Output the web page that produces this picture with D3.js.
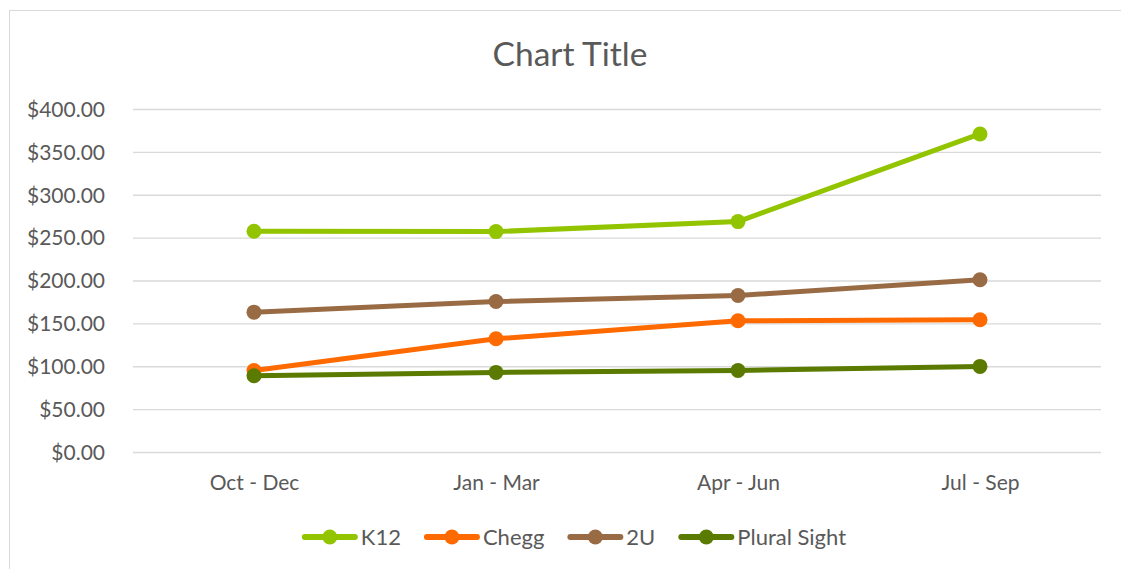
<!DOCTYPE html>
<html>
<head>
<meta charset="utf-8">
<script src="https://cdn.jsdelivr.net/npm/d3@7"></script>
<style>
  body { margin: 0; background: #fff; }
  text { font-family: Lato, "Open Sans", sans-serif; fill: #595959; }
</style>
</head>
<body>
<svg id="chart" width="1121" height="569"></svg>
<script>
const categories = ["Oct - Dec", "Jan - Mar", "Apr - Jun", "Jul - Sep"]
const seriesNames = ["K12", "Chegg", "2U", "Plural Sight"]
const k12 = [257.5, 257, 268.7, 370.9]
const chegg = [95.1, 132, 153, 154.2]
const twoU = [163.1, 175.5, 182.5, 200.8]
const pluralSight = [88.9, 92.8, 95.1, 99.8]
const yTicks = [0, 50, 100, 150, 200, 250, 300, 350, 400]
const colors = ["#93C400", "#FF6A00", "#996B45", "#5A7A00"]

const series = [k12, chegg, twoU, pluralSight].map((values, i) => ({
  name: seriesNames[i], values: values, color: colors[i]
}))

const svg = d3.select("#chart")
const margin = { left: 133, right: 20, top: 109, bottom: 117 }
const width = 1121 - margin.left - margin.right
const height = 569 - margin.top - margin.bottom

// chart frame
svg.append("rect")
  .attr("x", 9.5).attr("y", 10.5)
  .attr("width", 1130).attr("height", 580)
  .attr("fill", "none").attr("stroke", "#D9D9D9")

svg.append("text")
  .attr("x", 570).attr("y", 66)
  .attr("text-anchor", "middle")
  .style("font-size", "33.5px")
  .text("Chart Title")

const g = svg.append("g").attr("transform", `translate(${margin.left},${margin.top})`)

const x = d3.scalePoint().domain(categories).range([0, width]).padding(0.5)
const y = d3.scaleLinear().domain([0, 400]).range([height, 0])

// gridlines + y labels
const yAxis = g.append("g")
  .call(d3.axisLeft(y).tickValues(yTicks).tickSize(-width).tickPadding(28)
    .tickFormat(d => "$" + d3.format(".2f")(d)))
yAxis.select(".domain").remove()
yAxis.selectAll("line").attr("stroke", "#D9D9D9").attr("stroke-width", 1.3)
yAxis.selectAll("text").style("font-size", "21px").attr("dy", "0.35em")
  .style("font-family", "Lato, sans-serif").attr("fill", "#595959")

const xAxis = g.append("g")
  .attr("transform", `translate(0,${height})`)
  .call(d3.axisBottom(x).tickSize(0).tickPadding(23))
xAxis.select(".domain").remove()
xAxis.selectAll("text").style("font-size", "21px")
  .style("font-family", "Lato, sans-serif").attr("fill", "#595959")

const line = d3.line().x((d, i) => x(categories[i])).y(d => y(d))

series.forEach(s => {
  g.append("path")
    .datum(s.values)
    .attr("fill", "none")
    .attr("stroke", s.color)
    .attr("stroke-width", 5)
    .attr("stroke-linejoin", "round")
    .attr("d", line)
  g.selectAll(null)
    .data(s.values)
    .enter().append("circle")
    .attr("cx", (d, i) => x(categories[i]))
    .attr("cy", d => y(d))
    .attr("r", 7.5)
    .attr("fill", s.color)
})

// legend
const legend = svg.append("g").attr("transform", "translate(0,537)")
const items = legend.selectAll("g").data(series).enter().append("g")
items.append("line")
  .attr("x1", 3).attr("x2", 53)
  .attr("stroke", d => d.color).attr("stroke-width", 6).attr("stroke-linecap", "round")
items.append("circle").attr("cx", 28).attr("r", 7.5).attr("fill", d => d.color)
items.append("text")
  .attr("x", 59).attr("dy", "0.35em")
  .style("font-size", "22px")
  .text(d => d.name)

let widths = []
items.each(function() { widths.push(this.getBBox().width) })
const gap = 26
const total = d3.sum(widths) + gap * (widths.length - 1)
let pos = 572.5 - total / 2
items.attr("transform", (d, i) => {
  const t = `translate(${pos},0)`
  pos += widths[i] + gap
  return t
})
</script>
</body>
</html>
